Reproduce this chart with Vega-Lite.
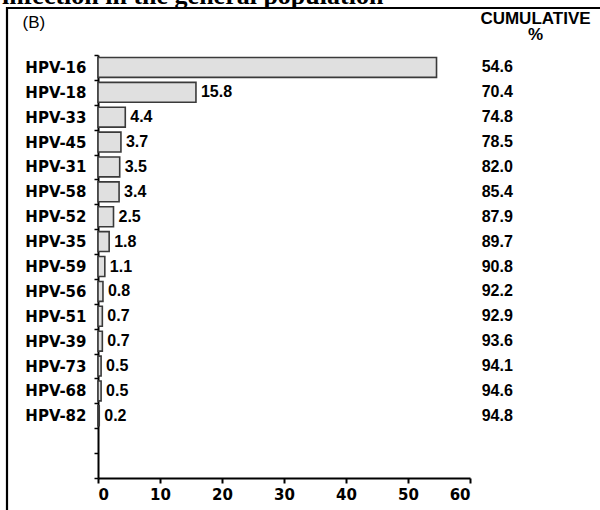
{
  "$schema": "https://vega.github.io/schema/vega-lite/v6.json",
  "width": 600,
  "height": 510,
  "autosize": "none",
  "padding": {"left": 7, "top": 8, "right": 0, "bottom": 0},
  "background": "white",
  "title": {
    "text": "infection in the general population",
    "anchor": "start",
    "frame": "group",
    "font": "Liberation Serif",
    "fontSize": 26,
    "fontWeight": "bold",
    "color": "black",
    "baseline": "alphabetic",
    "offset": 3,
    "dx": -5,
    "dy": 31.5
  },
  "data": {
    "values": [
      {"type": "HPV-16", "pct": 54.6, "cum": 54.6},
      {"type": "HPV-18", "pct": 15.8, "cum": 70.4},
      {"type": "HPV-33", "pct": 4.4, "cum": 74.8},
      {"type": "HPV-45", "pct": 3.7, "cum": 78.5},
      {"type": "HPV-31", "pct": 3.5, "cum": 82.0},
      {"type": "HPV-58", "pct": 3.4, "cum": 85.4},
      {"type": "HPV-52", "pct": 2.5, "cum": 87.9},
      {"type": "HPV-35", "pct": 1.8, "cum": 89.7},
      {"type": "HPV-59", "pct": 1.1, "cum": 90.8},
      {"type": "HPV-56", "pct": 0.8, "cum": 92.2},
      {"type": "HPV-51", "pct": 0.7, "cum": 92.9},
      {"type": "HPV-39", "pct": 0.7, "cum": 93.6},
      {"type": "HPV-73", "pct": 0.5, "cum": 94.1},
      {"type": "HPV-68", "pct": 0.5, "cum": 94.6},
      {"type": "HPV-82", "pct": 0.2, "cum": 94.8}
    ]
  },
  "encoding": {
    "y": {
      "field": "type",
      "type": "nominal",
      "sort": null,
      "scale": {
        "domain": ["HPV-16", "HPV-18", "HPV-33", "HPV-45", "HPV-31", "HPV-58", "HPV-52", "HPV-35", "HPV-59", "HPV-56", "HPV-51", "HPV-39", "HPV-73", "HPV-68", "HPV-82", " ", "  "],
        "range": [47, 470],
        "paddingInner": 0,
        "paddingOuter": 0
      },
      "axis": {
        "orient": "left",
        "offset": -91,
        "tickBand": "extent",
        "domainColor": "black",
        "domainWidth": 2,
        "tickColor": "black",
        "tickWidth": 1.5,
        "tickSize": 4,
        "labelFont": "DejaVu Sans",
        "labelFontWeight": "bold",
        "labelFontSize": 15,
        "labelColor": "black",
        "labelPadding": 8,
        "grid": false,
        "title": "(B)",
        "titleAngle": 0,
        "titleAlign": "left",
        "titleBaseline": "alphabetic",
        "titleX": -76,
        "titleY": 19,
        "titleFont": "Liberation Sans",
        "titleFontWeight": "normal",
        "titleFontSize": 17,
        "titleColor": "black"
      }
    }
  },
  "layer": [
    {
      "mark": {"type": "bar", "height": {"band": 0.8}, "fill": "#e0e0e0", "stroke": "#3a3a3a", "strokeWidth": 1.6},
      "encoding": {
        "x": {
          "field": "pct",
          "type": "quantitative",
          "scale": {"domain": [0, 60], "range": [91, 463], "nice": false},
          "axis": {
            "orient": "bottom",
            "offset": -40,
            "values": [0, 10, 20, 30, 40, 50, 60],
            "domainColor": "black",
            "domainWidth": 2,
            "tickColor": "black",
            "tickWidth": 2,
            "tickSize": 5,
            "labelFont": "DejaVu Sans",
            "labelFontWeight": "bold",
            "labelFontSize": 15,
            "labelColor": "black",
            "labelPadding": 4,
            "grid": false,
            "title": null
          }
        }
      }
    },
    {
      "transform": [{"filter": "datum.type != 'HPV-16'"}],
      "mark": {"type": "text", "align": "left", "baseline": "middle", "dx": 5, "font": "Liberation Sans", "fontWeight": "bold", "fontSize": 16, "color": "black"},
      "encoding": {
        "x": {"field": "pct", "type": "quantitative", "axis": null},
        "text": {"field": "pct", "type": "quantitative", "format": ".1f"}
      }
    },
    {
      "mark": {"type": "text", "align": "center", "baseline": "middle", "font": "Liberation Sans", "fontWeight": "bold", "fontSize": 16, "color": "black"},
      "encoding": {
        "x": {
          "datum": 64.4,
          "type": "quantitative",
          "axis": {
            "orient": "top",
            "domain": false,
            "ticks": false,
            "labels": false,
            "grid": false,
            "title": ["CUMULATIVE", "%"],
            "titleX": 528,
            "titleY": 15.5,
            "titleAlign": "center",
            "titleBaseline": "alphabetic",
            "titleAngle": 0,
            "titleFont": "Liberation Sans",
            "titleFontWeight": "bold",
            "titleFontSize": 17,
            "titleLineHeight": 16,
            "titleColor": "black"
          }
        },
        "text": {"field": "cum", "type": "quantitative", "format": ".1f"}
      }
    }
  ],
  "resolve": {"axis": {"x": "independent"}},
  "config": {
    "view": {"stroke": "black", "strokeWidth": 2.2, "fill": "white"}
  }
}
